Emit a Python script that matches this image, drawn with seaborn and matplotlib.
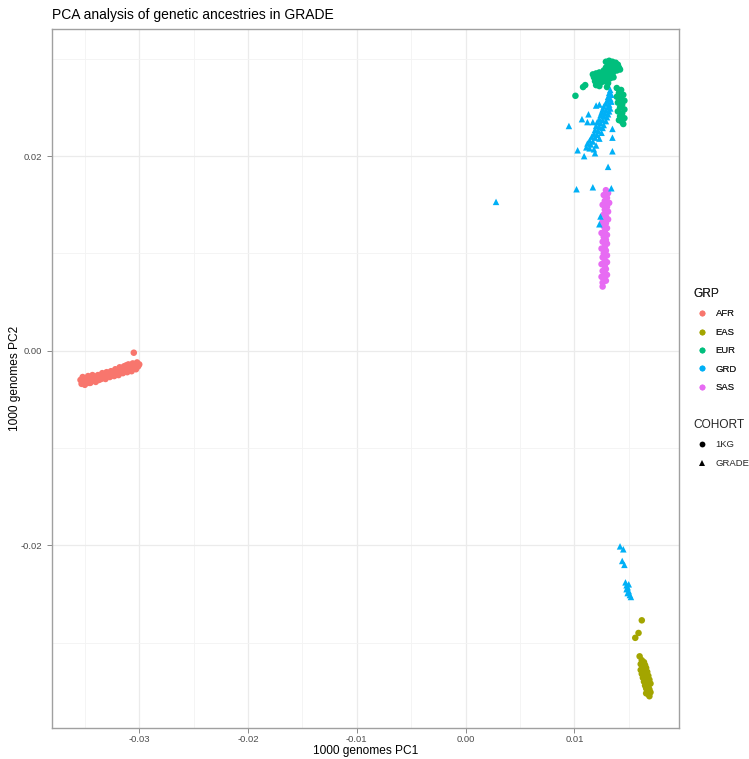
import matplotlib
matplotlib.use("Agg")
import matplotlib.pyplot as plt
from matplotlib.lines import Line2D
import seaborn as sns
import pandas as pd

# ---------------- data ----------------
AFR_PC1 = [-0.0354, -0.0353, -0.0352, -0.0351, -0.0350, -0.0349, -0.0348, -0.0347, -0.0346, -0.0345,
           -0.0344, -0.0343, -0.0342, -0.0341, -0.0340, -0.0339, -0.0338, -0.0337, -0.0336, -0.0335,
           -0.0334, -0.0333, -0.0332, -0.0331, -0.0330, -0.0329, -0.0328, -0.0327, -0.0326, -0.0325,
           -0.0324, -0.0323, -0.0322, -0.0321, -0.0320, -0.0319, -0.0318, -0.0317, -0.0316, -0.0315,
           -0.0314, -0.0313, -0.0312, -0.0311, -0.0310, -0.0309, -0.0308, -0.0307, -0.0306, -0.0305,
           -0.0304, -0.0303, -0.0302, -0.0301, -0.0300, -0.0305, -0.0352, -0.0345, -0.0340, -0.0333,
           -0.0327, -0.0319, -0.0312]
AFR_PC2 = [-0.0030, -0.0034, -0.0027, -0.0032, -0.0035, -0.0029, -0.0031, -0.0026, -0.0033, -0.0029,
           -0.0031, -0.0025, -0.0030, -0.0027, -0.0032, -0.0028, -0.0025, -0.0030, -0.0026, -0.0029,
           -0.0023, -0.0027, -0.0025, -0.0029, -0.0022, -0.0026, -0.0024, -0.0027, -0.0021, -0.0025,
           -0.0022, -0.0026, -0.0019, -0.0023, -0.0021, -0.0025, -0.0017, -0.0022, -0.0019, -0.0023,
           -0.0016, -0.0020, -0.0018, -0.0022, -0.0014, -0.0019, -0.0016, -0.0021, -0.0013, -0.0017,
           -0.0015, -0.0019, -0.0012, -0.0016, -0.0014, -0.0002, -0.0031, -0.0033, -0.0029, -0.0026,
           -0.0023, -0.0021, -0.0015]

EAS_PC1 = [0.0162, 0.0159, 0.0156, 0.0160,
           0.0162, 0.0164, 0.0161, 0.0165, 0.0163, 0.0166, 0.0161, 0.0164, 0.0167, 0.0162,
           0.0165, 0.0168, 0.0163, 0.0166, 0.0169, 0.0164, 0.0167, 0.0170, 0.0165, 0.0168,
           0.0166, 0.0169, 0.0167, 0.0170, 0.0168, 0.0169, 0.0166, 0.0163]
EAS_PC2 = [-0.0277, -0.0290, -0.0295, -0.0314,
           -0.0318, -0.0320, -0.0322, -0.0323, -0.0325, -0.0326, -0.0328, -0.0329, -0.0330, -0.0332,
           -0.0333, -0.0334, -0.0336, -0.0337, -0.0338, -0.0340, -0.0341, -0.0342, -0.0344, -0.0345,
           -0.0347, -0.0348, -0.0350, -0.0351, -0.0353, -0.0355, -0.0352, -0.0330]

EUR_PC1 = [0.0129, 0.0132, 0.0135, 0.0138, 0.0131, 0.0134, 0.0137, 0.0140, 0.0129, 0.0132,
           0.0135, 0.0138, 0.0141, 0.0127, 0.0130, 0.0133, 0.0136, 0.0139, 0.0142, 0.0134,
           0.0117, 0.0120, 0.0123, 0.0126, 0.0129, 0.0132, 0.0135, 0.0118, 0.0121, 0.0124,
           0.0127, 0.0130, 0.0133, 0.0136, 0.0119, 0.0122, 0.0125, 0.0128, 0.0131, 0.0120,
           0.0123, 0.0130, 0.0110, 0.0108, 0.0101,
           0.0139, 0.0143, 0.0141, 0.0145, 0.0139, 0.0143, 0.0146, 0.0140, 0.0144, 0.0142,
           0.0146, 0.0140, 0.0144, 0.0142, 0.0146, 0.0141, 0.0144, 0.0145]
EUR_PC2 = [0.0297, 0.0298, 0.0297, 0.0296, 0.0294, 0.0295, 0.0293, 0.0294, 0.0291, 0.0292,
           0.0291, 0.0290, 0.0291, 0.0288, 0.0289, 0.0288, 0.0287, 0.0288, 0.0289, 0.0293,
           0.0284, 0.0285, 0.0286, 0.0285, 0.0286, 0.0285, 0.0284, 0.0281, 0.0282, 0.0280,
           0.0282, 0.0281, 0.0280, 0.0281, 0.0277, 0.0278, 0.0276, 0.0277, 0.0275, 0.0273,
           0.0272, 0.0271, 0.0273, 0.0271, 0.0262,
           0.0270, 0.0268, 0.0265, 0.0263, 0.0261, 0.0259, 0.0257, 0.0255, 0.0253, 0.0250,
           0.0248, 0.0246, 0.0244, 0.0241, 0.0239, 0.0237, 0.0235, 0.0233]

SAS_PC1 = [0.0129, 0.0131, 0.0127, 0.0130, 0.0128, 0.0132, 0.0126, 0.0130, 0.0128, 0.0131,
           0.0127, 0.0129, 0.0131, 0.0126, 0.0129, 0.0127, 0.0130, 0.0128, 0.0125, 0.0130,
           0.0127, 0.0129, 0.0126, 0.0130, 0.0128, 0.0125, 0.0129, 0.0127, 0.0130, 0.0126,
           0.0128, 0.0130, 0.0125, 0.0128, 0.0129, 0.0126, 0.0128, 0.0130, 0.0125, 0.0127,
           0.0129, 0.0126, 0.0126]
SAS_PC2 = [0.0165, 0.0162, 0.0160, 0.0157, 0.0154, 0.0152, 0.0150, 0.0148, 0.0145, 0.0143,
           0.0140, 0.0138, 0.0135, 0.0133, 0.0131, 0.0128, 0.0126, 0.0123, 0.0121, 0.0119,
           0.0117, 0.0114, 0.0112, 0.0110, 0.0107, 0.0105, 0.0103, 0.0100, 0.0098, 0.0096,
           0.0093, 0.0091, 0.0089, 0.0087, 0.0084, 0.0082, 0.0080, 0.0078, 0.0076, 0.0074,
           0.0072, 0.0070, 0.0066]

GRD_PC1 = [0.0133, 0.0132, 0.0134, 0.0131, 0.0133, 0.0130, 0.0134, 0.0129, 0.0132, 0.0127,
           0.0131, 0.0133, 0.0126, 0.0129, 0.0132, 0.0125, 0.0128, 0.0131, 0.0124, 0.0127,
           0.0130, 0.0123, 0.0126, 0.0129, 0.0121, 0.0124, 0.0127, 0.0120, 0.0123, 0.0126,
           0.0119, 0.0122, 0.0125, 0.0118, 0.0121, 0.0116, 0.0119, 0.0123, 0.0114, 0.0117,
           0.0112, 0.0115, 0.0120, 0.0111, 0.0114, 0.0118,
           0.0095, 0.0107, 0.0113, 0.0112, 0.0117, 0.0120, 0.0123, 0.0103, 0.0109, 0.0119,
           0.0135, 0.0135, 0.0135, 0.0131, 0.0102, 0.0117, 0.0134, 0.0124, 0.0123, 0.0028,
           0.0142, 0.0145, 0.0144, 0.0146, 0.0147, 0.0148, 0.0149, 0.0148, 0.0150, 0.0149,
           0.0151, 0.0152, 0.0150]
GRD_PC2 = [0.0268, 0.0265, 0.0263, 0.0261, 0.0259, 0.0257, 0.0256, 0.0254, 0.0253, 0.0251,
           0.0250, 0.0249, 0.0248, 0.0247, 0.0246, 0.0245, 0.0244, 0.0243, 0.0242, 0.0241,
           0.0240, 0.0238, 0.0237, 0.0236, 0.0235, 0.0234, 0.0232, 0.0231, 0.0230, 0.0229,
           0.0227, 0.0226, 0.0224, 0.0223, 0.0222, 0.0220, 0.0219, 0.0218, 0.0216, 0.0215,
           0.0213, 0.0212, 0.0211, 0.0209, 0.0208, 0.0207,
           0.0231, 0.0238, 0.0243, 0.0235, 0.0235, 0.0252, 0.0253, 0.0206, 0.0200, 0.0203,
           0.0205, 0.0219, 0.0228, 0.0189, 0.0166, 0.0168, 0.0167, 0.0138, 0.0130, 0.0153,
           -0.0201, -0.0204, -0.0216, -0.0220, -0.0238, -0.0241, -0.0243, -0.0245, -0.0247, -0.0249,
           -0.0251, -0.0253, -0.0240]

GROUPS = ["AFR", "EAS", "EUR", "GRD", "SAS"]
COLORS = ["#F8766D", "#A3A500", "#00BF7D", "#00B0F6", "#E76BF3"]
COHORTS = ["1KG", "GRADE"]
X_TICKS = [-0.03, -0.02, -0.01, 0.00, 0.01]
X_TICK_LABELS = ["-0.03", "-0.02", "-0.01", "0.00", "0.01"]
Y_TICKS = [-0.02, 0.00, 0.02]
Y_TICK_LABELS = ["-0.02", "0.00", "0.02"]

# ---------------- table ----------------
parts = []
for name, xs, ys, coh in [("AFR", AFR_PC1, AFR_PC2, "1KG"),
                          ("EAS", EAS_PC1, EAS_PC2, "1KG"),
                          ("EUR", EUR_PC1, EUR_PC2, "1KG"),
                          ("SAS", SAS_PC1, SAS_PC2, "1KG"),
                          ("GRD", GRD_PC1, GRD_PC2, "GRADE")]:
    parts.append(pd.DataFrame({"PC1": xs, "PC2": ys, "GRP": name, "COHORT": coh}))
df = pd.concat(parts, ignore_index=True)

# ---------------- style ----------------
sns.set_theme(style="white")
plt.rcParams["font.family"] = ["Liberation Sans", "DejaVu Sans"]

W, H = 749, 759
fig = plt.figure(figsize=(W / 100, H / 100), dpi=100)
L, R, T, B = 52, 679, 29, 728
ax = fig.add_axes([L / W, 1 - B / H, (R - L) / W, (B - T) / H])

palette = dict(zip(GROUPS, COLORS))
sns.scatterplot(data=df, x="PC1", y="PC2", hue="GRP", style="COHORT",
                palette=palette, markers={"1KG": "o", "GRADE": "^"},
                s=22, linewidth=0, alpha=1, legend=False, ax=ax, zorder=3)

ax.margins(0.05)
ax.set_xticks(X_TICKS)
ax.set_xticklabels(X_TICK_LABELS)
ax.set_yticks(Y_TICKS)
ax.set_yticklabels(Y_TICK_LABELS)
ax.set_xticks([-0.035, -0.025, -0.015, -0.005, 0.005, 0.015], minor=True)
ax.set_yticks([-0.03, -0.01, 0.01, 0.03], minor=True)
ax.grid(True, which="major", color="#EBEBEB", linewidth=0.9)
ax.grid(True, which="minor", color="#F3F3F3", linewidth=0.6)
ax.set_axisbelow(True)
ax.tick_params(axis="both", which="major", length=3.4, width=0.6, color="#777777",
               labelsize=6.8, labelcolor="#4D4D4D", bottom=True, left=True)
ax.tick_params(axis="x", which="major", pad=2)
ax.tick_params(axis="y", which="major", pad=3.5)
ax.tick_params(axis="both", which="minor", length=0)
for sp in ax.spines.values():
    sp.set_color("#A0A0A0")
    sp.set_linewidth(1.0)

ax.set_xlabel("1000 genomes PC1", fontsize=8.6, color="black")
ax.set_ylabel("1000 genomes PC2", fontsize=8.6, color="black")
ax.xaxis.set_label_coords(0.5, -(745 - B) / (B - T))
ax.yaxis.set_label_coords(-(L - 21) / (R - L), 0.5)
fig.text(L / W, 1 - 15.5 / H, "PCA analysis of genetic ancestries in GRADE",
         fontsize=10.0, ha="left", va="center", color="black")

# ---------------- legends ----------------
h1 = [Line2D([], [], ls="none", marker="o", ms=4.2, mfc=c, mec=c, mew=0) for c in COLORS]
leg1 = fig.legend(h1, GROUPS, title="GRP", loc="upper left",
                  bbox_to_anchor=(693 / W, 1 - 288 / H), frameon=False,
                  fontsize=6.8, title_fontsize=8.6, borderpad=0, borderaxespad=0,
                  handlelength=1.8, handletextpad=0.6, labelspacing=1.0, alignment="left")
h2 = [Line2D([], [], ls="none", marker=m, ms=4.2, mfc="black", mec="black", mew=0)
      for m in ["o", "^"]]
leg2 = fig.legend(h2, COHORTS, title="COHORT", loc="upper left",
                  bbox_to_anchor=(693 / W, 1 - 419 / H), frameon=False,
                  fontsize=6.8, title_fontsize=8.6, borderpad=0, borderaxespad=0,
                  handlelength=1.8, handletextpad=0.6, labelspacing=1.0, alignment="left")
fig.add_artist(leg1)

fig.savefig("out.png", dpi=100)
